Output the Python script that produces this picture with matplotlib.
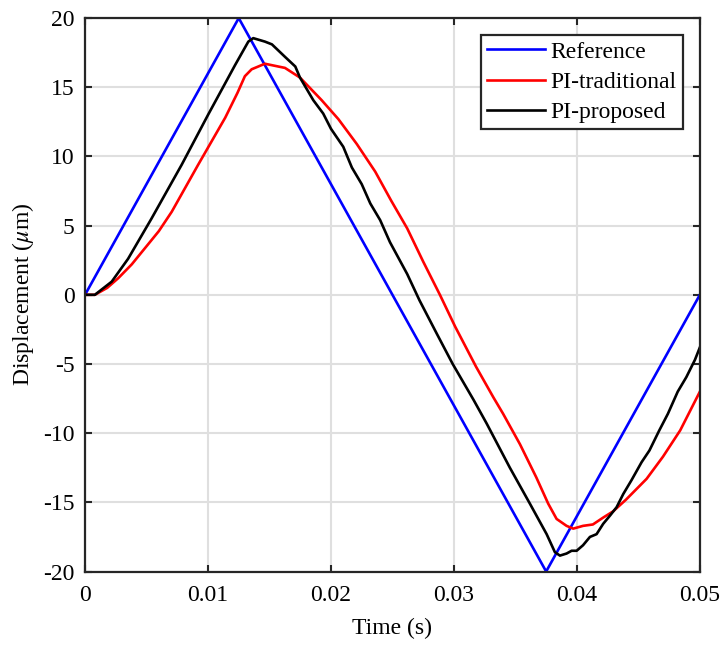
import numpy as np
import matplotlib
matplotlib.use('Agg')
from matplotlib import pyplot as plt

plt.rcParams['font.family'] = ['Liberation Serif', 'DejaVu Serif']
plt.rcParams['mathtext.fontset'] = 'stix'
plt.rcParams['axes.unicode_minus'] = False

# reference triangle wave
t_ref = [0, 0.0125, 0.0375, 0.05]
y_ref = [0, 20, -20, 0]

# PI-traditional
t_trad = [0, 0.0008, 0.0018, 0.0027, 0.0038, 0.0049, 0.006, 0.00705, 0.0092,
          0.0114, 0.0124, 0.0130, 0.01355,
          0.01463, 0.01626, 0.01748, 0.01924, 0.0206, 0.0221, 0.0236, 0.0249,
          0.0262, 0.0275, 0.02886, 0.0301, 0.0318, 0.0332, 0.0340, 0.03537,
          0.0367, 0.03767, 0.03835, 0.03916, 0.0397, 0.0405, 0.0413, 0.04214,
          0.04295, 0.0440, 0.04567, 0.0470, 0.0484, 0.0500]
y_trad = [0, 0.0, 0.5, 1.2, 2.2, 3.4, 4.6, 6.0, 9.4,
          12.8, 14.6, 15.8, 16.3,
          16.7, 16.4, 15.7, 14.07, 12.7, 10.9, 8.9, 6.8,
          4.8, 2.4, 0.0, -2.3, -5.2, -7.4, -8.6, -10.8,
          -13.2, -15.1, -16.2, -16.7, -16.9, -16.7, -16.6, -16.1,
          -15.65, -14.8, -13.3, -11.7, -9.8, -7.0]

# PI-proposed
t_prop = [0, 0.0008, 0.00217, 0.0035, 0.0054, 0.00786, 0.0100, 0.0122, 0.01328,
          0.01368, 0.01463, 0.0152, 0.01626, 0.0171, 0.01748, 0.01856, 0.01937,
          0.0200, 0.0210, 0.0217, 0.0225, 0.0232, 0.0240, 0.0248, 0.0262,
          0.0272, 0.0286, 0.0299, 0.0316, 0.03266, 0.03455, 0.03618, 0.03754,
          0.03821, 0.03862, 0.03916, 0.03957, 0.03998, 0.0405, 0.04106, 0.0416,
          0.04214, 0.0427, 0.04323, 0.04377, 0.04444, 0.04526, 0.0459, 0.0467,
          0.0474, 0.0482, 0.0489, 0.0496, 0.0500]
y_prop = [0, 0.0, 0.95, 2.6, 5.5, 9.4, 13.0, 16.6, 18.3,
          18.55, 18.3, 18.1, 17.2, 16.5, 15.7, 14.07, 13.1,
          12.0, 10.7, 9.2, 8.0, 6.6, 5.4, 3.8, 1.5,
          -0.4, -2.8, -5.0, -7.6, -9.3, -12.5, -15.1, -17.3,
          -18.6, -18.85, -18.7, -18.5, -18.5, -18.1, -17.5, -17.3,
          -16.55, -15.95, -15.35, -14.4, -13.4, -12.1, -11.25, -9.8,
          -8.6, -7.0, -5.95, -4.7, -3.8]

fig = plt.figure(figsize=(7.23, 6.46), dpi=100)
ax = fig.add_axes([0.1176, 0.1153, 0.968 - 0.1176, 0.972 - 0.1153])

ax.plot(t_ref, y_ref, color='#0000ff', lw=1.9, label='Reference')
ax.plot(t_trad, y_trad, color='#ff0000', lw=1.9, label='PI-traditional')
ax.plot(t_prop, y_prop, color='black', lw=1.9, label='PI-proposed')

ax.set_xlim(0, 0.05)
ax.set_ylim(-20, 20)
ax.set_xticks([0, 0.01, 0.02, 0.03, 0.04, 0.05])
ax.set_xticklabels(['0', '0.01', '0.02', '0.03', '0.04', '0.05'])
ax.set_yticks(np.arange(-20, 21, 5))
ax.grid(True, color='#dfdfdf', lw=1.5)
ax.set_axisbelow(True)
for s in ax.spines.values():
    s.set_color('#262626')
    s.set_linewidth(1.6)
ax.tick_params(direction='in', length=5, width=1.5, color='#262626',
               top=True, right=True, labelsize=17)
ax.tick_params(axis='x', pad=10)
ax.tick_params(axis='y', pad=7.5)

ax.set_xlabel('Time (s)', fontsize=17, labelpad=8)
ax.set_ylabel(r'Displacement ($\mu$m)', fontsize=17, labelpad=5)

leg = ax.legend(loc='upper right', fontsize=17, fancybox=False, framealpha=1,
                edgecolor='#262626', handlelength=2.45, labelspacing=0.37,
                borderaxespad=0.72, handletextpad=0.25, borderpad=0.25)
leg.get_frame().set_linewidth(1.6)

fig.savefig('out.png', dpi=100)
